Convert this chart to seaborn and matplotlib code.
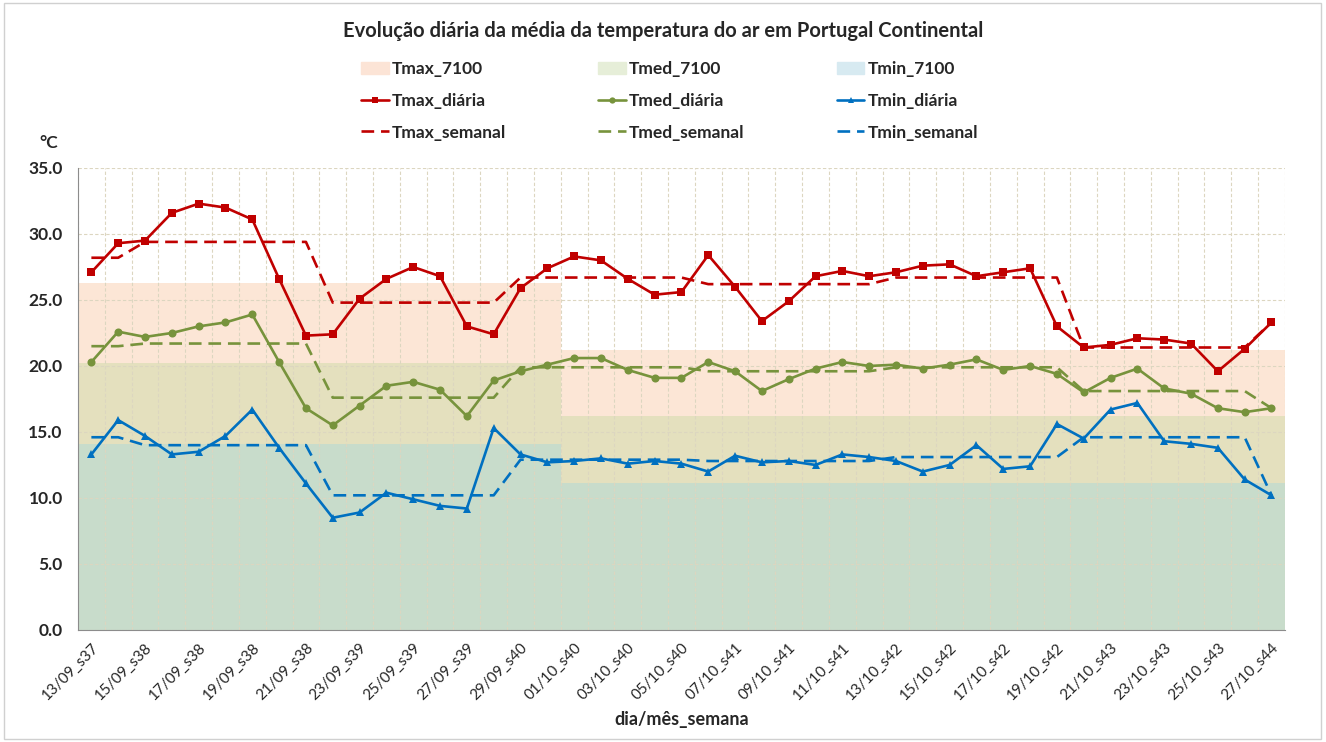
import numpy as np
import pandas as pd
import matplotlib
matplotlib.use("Agg")
import matplotlib.pyplot as plt
import seaborn as sns
from matplotlib.patches import Patch, Rectangle
from matplotlib.lines import Line2D

# dias e semanas
dias = pd.date_range("2020-09-13", "2020-10-27", freq="D")
semanas = [37] * 2 + [38] * 7 + [39] * 7 + [40] * 7 + [41] * 7 + [42] * 7 + [43] * 7 + [44]

# valores diarios
tmax_diaria = [27.1, 29.3, 29.5, 31.6, 32.3, 32.0, 31.1, 26.6, 22.3, 22.4,
               25.1, 26.6, 27.5, 26.8, 23.0, 22.4, 25.9, 27.4, 28.3, 28.0,
               26.6, 25.4, 25.6, 28.4, 26.0, 23.4, 24.9, 26.8, 27.2, 26.8,
               27.1, 27.6, 27.7, 26.8, 27.1, 27.4, 23.0, 21.4, 21.6, 22.1,
               22.0, 21.7, 19.6, 21.3, 23.3]
tmed_diaria = [20.3, 22.6, 22.2, 22.5, 23.0, 23.3, 23.9, 20.3, 16.8, 15.5,
               17.0, 18.5, 18.8, 18.2, 16.2, 18.9, 19.6, 20.1, 20.6, 20.6,
               19.7, 19.1, 19.1, 20.3, 19.6, 18.1, 19.0, 19.8, 20.3, 20.0,
               20.1, 19.8, 20.1, 20.5, 19.7, 20.0, 19.4, 18.0, 19.1, 19.8,
               18.3, 17.9, 16.8, 16.5, 16.8]
tmin_diaria = [13.3, 15.9, 14.7, 13.3, 13.5, 14.7, 16.7, 13.8, 11.1, 8.5,
               8.9, 10.4, 9.9, 9.4, 9.2, 15.3, 13.3, 12.7, 12.8, 13.0,
               12.6, 12.8, 12.6, 12.0, 13.2, 12.7, 12.8, 12.5, 13.3, 13.1,
               12.8, 12.0, 12.5, 14.0, 12.2, 12.4, 15.6, 14.5, 16.7, 17.2,
               14.3, 14.1, 13.8, 11.4, 10.2]

# medias semanais
sem_tmax = {37: 28.2, 38: 29.4, 39: 24.8, 40: 26.7, 41: 26.2, 42: 26.7, 43: 21.4, 44: 23.3}
sem_tmed = {37: 21.5, 38: 21.7, 39: 17.6, 40: 19.9, 41: 19.6, 42: 19.9, 43: 18.1, 44: 16.8}
sem_tmin = {37: 14.6, 38: 14.0, 39: 10.2, 40: 12.9, 41: 12.8, 42: 13.1, 43: 14.6, 44: 10.2}

# normais 1971-2000 por mes
norm_tmax = {9: 26.3, 10: 21.2}
norm_tmed = {9: 20.2, 10: 16.2}
norm_tmin = {9: 14.1, 10: 11.1}

x = np.arange(len(dias))
labels = [f"{d:%d/%m}_s{w}" for d, w in zip(dias, semanas)]

df = pd.DataFrame({
    "x": x,
    "tmax": tmax_diaria, "tmed": tmed_diaria, "tmin": tmin_diaria,
    "tmax_sem": [sem_tmax[w] for w in semanas],
    "tmed_sem": [sem_tmed[w] for w in semanas],
    "tmin_sem": [sem_tmin[w] for w in semanas],
})

sns.set_style("white")
plt.rcParams["font.family"] = ["Lato", "DejaVu Sans"]

fig = plt.figure(figsize=(13.26, 7.42), dpi=100)
ax = fig.add_axes([0.0588, 0.151, 0.9102, 0.6226])

# bandas das normais
edges = np.arange(len(dias) + 1) - 0.5
nmax = [norm_tmax[d.month] for d in dias]
nmed = [norm_tmed[d.month] for d in dias]
nmin = [norm_tmin[d.month] for d in dias]
nmax, nmed, nmin = nmax + nmax[-1:], nmed + nmed[-1:], nmin + nmin[-1:]
ax.fill_between(edges, 0, nmin, step="post", color="#C8DCCB", lw=0, zorder=0.2)
ax.fill_between(edges, nmin, nmed, step="post", color="#E4E0BE", lw=0, zorder=0.2)
ax.fill_between(edges, nmed, nmax, step="post", color="#FCE6D6", lw=0, zorder=0.2)

red, green, blue = "#C00000", "#77933C", "#0070C0"
lw = 1.9
dash = (0, (4.8, 2.6))

for col, c in [("tmax_sem", red), ("tmed_sem", green), ("tmin_sem", blue)]:
    sns.lineplot(data=df, x="x", y=col, ax=ax, color=c, lw=lw, linestyle=dash,
                 estimator=None, sort=False, zorder=3)

for col, c, m, ms in [("tmax", red, "s", 5.2), ("tmed", green, "o", 5.8), ("tmin", blue, "^", 5.8)]:
    sns.lineplot(data=df, x="x", y=col, ax=ax, color=c, lw=lw, marker=m,
                 markersize=ms, markeredgewidth=0, estimator=None, sort=False, zorder=4)

ax.set_xlim(-0.5, len(dias) - 0.5)
ax.set_ylim(0, 35)
ax.set_yticks(np.arange(0, 35.1, 5))
ax.set_yticklabels([f"{v:.1f}" for v in np.arange(0, 35.1, 5)], fontsize=12.5,
                   fontweight="bold", color="#262626")
ax.set_xticks(x[::2])
ax.set_xticklabels(labels[::2], rotation=45, ha="right", rotation_mode="anchor",
                   fontsize=11, color="#262626")
ax.set_xticks(edges, minor=True)
ax.tick_params(axis="x", which="major", length=0, pad=8)
ax.tick_params(axis="x", which="minor", length=5, color="#8C8C8C", width=0.8)
ax.tick_params(axis="y", length=5, color="#8C8C8C", width=0.8, pad=6)

ax.set_axisbelow(True)
ax.grid(which="minor", axis="x", color="#DCD6C0", lw=0.8, ls=(0, (3, 2)))
ax.grid(which="major", axis="y", color="#DCD6C0", lw=0.8, ls=(0, (3, 2)))
ax.grid(which="major", axis="x", visible=False)
for s in ["top", "right"]:
    ax.spines[s].set_visible(False)
for s in ["left", "bottom"]:
    ax.spines[s].set_color("#8C8C8C")
    ax.spines[s].set_linewidth(0.8)

ax.set_xlabel("dia/mês_semana", fontsize=13, fontweight="bold", labelpad=6)
ax.set_ylabel("")
fig.text(0.030, 0.800, "°C", fontsize=12.5, fontweight="bold", color="#262626")
fig.suptitle("Evolução diária da média da temperatura do ar em Portugal Continental",
             x=0.5, y=0.972, fontsize=14.5, fontweight="bold", color="#262626")

# legenda
handles = [
    Patch(color="#FCE4D6"),
    Line2D([], [], color=red, lw=lw, marker="s", markersize=4, markeredgewidth=0),
    Line2D([], [], color=red, lw=lw, ls=dash),
    Patch(color="#E6EED8"),
    Line2D([], [], color=green, lw=lw, marker="o", markersize=4.5, markeredgewidth=0),
    Line2D([], [], color=green, lw=lw, ls=dash),
    Patch(color="#D7EAF1"),
    Line2D([], [], color=blue, lw=lw, marker="^", markersize=4.5, markeredgewidth=0),
    Line2D([], [], color=blue, lw=lw, ls=dash),
]
names = ["Tmax_7100", "Tmax_diária", "Tmax_semanal",
         "Tmed_7100", "Tmed_diária", "Tmed_semanal",
         "Tmin_7100", "Tmin_diária", "Tmin_semanal"]
leg = fig.legend(handles, names, ncol=3, loc="center", bbox_to_anchor=(0.505, 0.864),
                 frameon=False, handlelength=1.6, handletextpad=0.17, columnspacing=5.3,
                 labelspacing=0.9, prop={"weight": "bold", "size": 12.5})
for t in leg.get_texts():
    t.set_color("#262626")

# moldura exterior
fig.patches.append(Rectangle((0.003, 0.004), 0.993, 0.992, transform=fig.transFigure,
                             fill=False, edgecolor="#D0D0D0", lw=1))

fig.savefig("out.png", dpi=100)
